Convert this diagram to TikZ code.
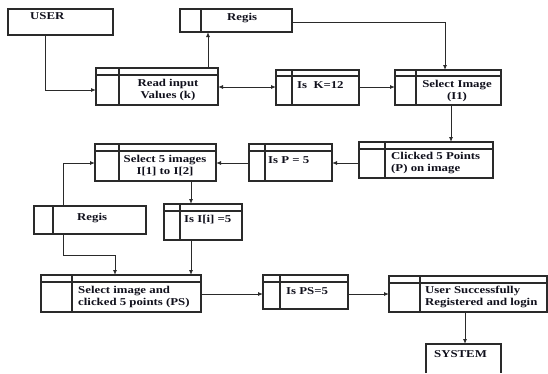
\documentclass[tikz,border=0pt]{standalone}
\usepackage{fontspec}
\setmainfont{Liberation Serif}[FakeStretch=1.22]
\usetikzlibrary{arrows.meta,calc}
\definecolor{linec}{HTML}{2A2A2A}
\definecolor{textc}{HTML}{10101C}
\tikzset{
  boxst/.style={draw=linec, line width=1.2pt, inner sep=0pt, outer sep=0pt, rectangle},
  openbox/.style={inner sep=0pt, outer sep=0pt, rectangle},
  divline/.style={draw=linec, line width=1.2pt},
  arr/.style={draw=linec, line width=0.9pt, -{Latex[length=5pt,width=4pt]}},
  darr/.style={draw=linec, line width=0.9pt, {Latex[length=5pt,width=4pt]}-{Latex[length=5pt,width=4pt]}},
  lbl/.style={font=\bfseries\fontsize{10.5}{12}\selectfont, text=textc, inner sep=0pt, anchor=base west},
  clbl/.style={lbl, anchor=base},
}
\newcommand{\mkbox}[6][boxst]{%
  \pgfmathsetmacro\bw{#5-#3}\pgfmathsetmacro\bh{#6-#4}%
  \node[#1, minimum width=\bw pt, minimum height=\bh pt, anchor=north west] (#2) at (#3,#4) {};}
\newcommand{\vdiv}[2]{\draw[divline] (#1.north -| #2,0) -- (#1.south -| #2,0);}
\newcommand{\hdiv}[2]{\draw[divline] (#1.west |- 0,#2) -- (#1.east |- 0,#2);}
\begin{document}
\begin{tikzpicture}[x={(1pt,0pt)}, y={(0pt,-1pt)}]
\useasboundingbox (0,0) rectangle (548,373);
\fill[white] (0,0) rectangle (548,373);

% boxes
\mkbox{user}{8}{9}{113}{35}
\mkbox{regisA}{180}{9}{292}{32} \vdiv{regisA}{201}
\mkbox{read}{96}{68}{218}{105} \vdiv{read}{119} \hdiv{read}{75}
\mkbox{isk}{276}{70}{359}{105} \vdiv{isk}{292} \hdiv{isk}{76}
\mkbox{selimg}{395}{70}{501}{105} \vdiv{selimg}{416} \hdiv{selimg}{76}
\mkbox{clicked}{359}{142}{493}{178} \vdiv{clicked}{385} \hdiv{clicked}{149}
\mkbox{isp}{249}{144}{332}{181} \vdiv{isp}{265} \hdiv{isp}{151}
\mkbox{selfive}{95}{144}{216}{181} \vdiv{selfive}{119} \hdiv{selfive}{151}
\mkbox{regisB}{34}{206}{146}{234} \vdiv{regisB}{53}
\mkbox{isi}{164}{204}{242}{240} \vdiv{isi}{180} \hdiv{isi}{211}
\mkbox{selps}{41}{275}{201}{312} \vdiv{selps}{72} \hdiv{selps}{282}
\mkbox{isps}{263}{275}{348}{309} \vdiv{isps}{280} \hdiv{isps}{282}
\mkbox{usr}{389}{276}{547}{312} \vdiv{usr}{420} \hdiv{usr}{283}
\mkbox[openbox]{system}{426}{344}{501}{373}
\draw[divline] (system.south west) |- (system.north east) -- (system.south east);

% texts
\node[lbl] (t-user) at (30,19.5) {USER};
\node[lbl] (t-regisA) at (227,20) {Regis};
\node[clbl] (t-read) at (168,86) {\begin{tabular}[t]{@{}c@{}}Read input\\Values (k)\end{tabular}};
\node[lbl] (t-isk) at (297,88) {Is\ \ K=12};
\node[clbl] (t-selimg) at (457,87) {\begin{tabular}[t]{@{}c@{}}Select Image\\(I1)\end{tabular}};
\node[lbl] (t-clicked) at (391,159) {\begin{tabular}[t]{@{}l@{}}Clicked 5 Points\\(P) on image\end{tabular}};
\node[lbl] (t-isp) at (268,163) {Is P = 5};
\node[clbl] (t-selfive) at (165,162) {\begin{tabular}[t]{@{}c@{}}Select 5 images\\I[1] to I[2]\end{tabular}};
\node[lbl] (t-isi) at (184,222) {Is I[i] =5};
\node[lbl] (t-regisB) at (77,220) {Regis};
\node[lbl] (t-selps) at (78,293) {\begin{tabular}[t]{@{}l@{}}Select image and\\clicked 5 points (PS)\end{tabular}};
\node[lbl] (t-isps) at (286,294) {Is PS=5};
\node[lbl] (t-usr) at (425,293) {\begin{tabular}[t]{@{}l@{}}User Successfully\\Registered and login\end{tabular}};
\node[lbl] (t-system) at (434,357) {SYSTEM};

% connectors
\draw[arr] (user.south -| 45,0) |- (read.west |- 0,90);
\draw[arr] (read.north -| 208,0) -- (regisA.south -| 208,0);
\draw[darr] (read.east |- 0,87) -- (isk.west |- 0,87);
\draw[arr] (isk.east |- 0,87) -- (selimg.west |- 0,87);
\draw[arr] (regisA.east |- 0,22) -| (selimg.north -| 445,0);
\draw[arr] (selimg.south -| 451,0) -- (clicked.north -| 451,0);
\draw[arr] (clicked.west |- 0,163) -- (isp.east |- 0,163);
\draw[arr] (isp.west |- 0,163) -- (selfive.east |- 0,163);
\draw[arr] (selfive.south -| 191,0) -- (isi.north -| 191,0);
\draw[arr] (regisB.north -| 63,0) |- (selfive.west |- 0,163);
\draw[arr] (regisB.south -| 63,0) -- (63,255) -| (selps.north -| 115,0);
\draw[arr] (isi.south -| 191,0) -- (selps.north -| 191,0);
\draw[arr] (selps.east |- 0,294) -- (isps.west |- 0,294);
\draw[arr] (isps.east |- 0,294) -- (usr.west |- 0,294);
\draw[arr] (usr.south -| 465,0) -- (system.north -| 465,0);
\end{tikzpicture}
\end{document}
